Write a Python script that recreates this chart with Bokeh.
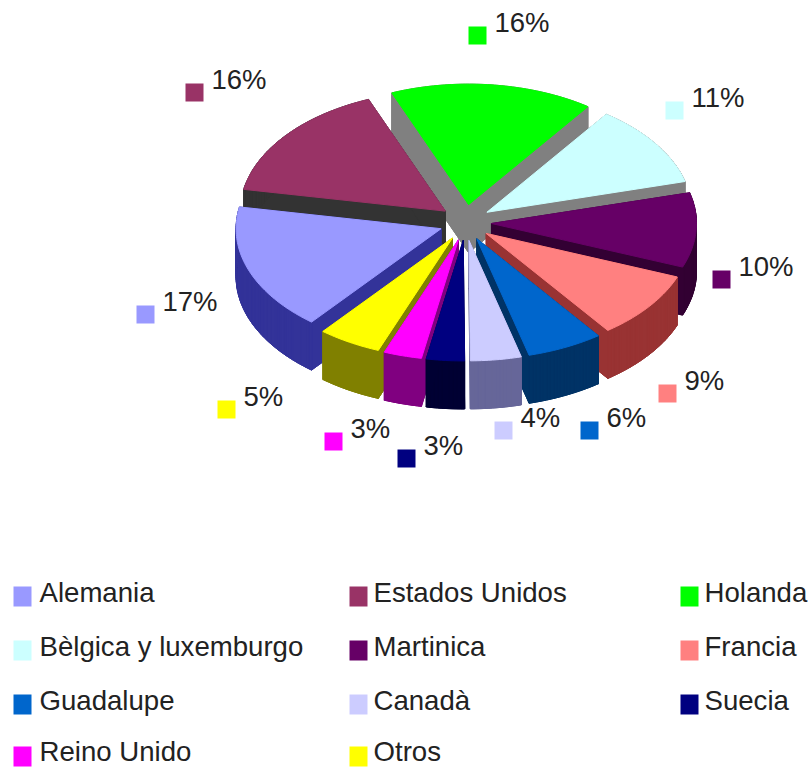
import math
from bokeh.plotting import figure
from bokeh.models import Range1d
from bokeh.core.properties import value
from bokeh.embed import file_html
from bokeh.resources import INLINE

# --- data (clockwise from the Holanda slice's leading edge)
names = ["Holanda", "Bèlgica y luxemburgo", "Martinica", "Francia", "Guadalupe",
         "Canadà", "Suecia", "Reino Unido", "Otros", "Alemania", "Estados Unidos"]
shares = [16, 11, 10, 9, 6, 4, 3, 3, 5, 17, 16]
top_colors = ["#00FF00", "#CCFFFF", "#660066", "#FF8080", "#0066CC",
              "#CCCCFF", "#000080", "#FF00FF", "#FFFF00", "#9999FF", "#993366"]
side_colors = ["#808080", "#808080", "#330033", "#993333", "#003366",
               "#666699", "#000033", "#800080", "#808000", "#333399", "#333333"]
legend_order = ["Alemania", "Estados Unidos", "Holanda",
                "Bèlgica y luxemburgo", "Martinica", "Francia",
                "Guadalupe", "Canadà", "Suecia",
                "Reino Unido", "Otros"]

# --- layout (page pixels)
CX, CY = 465, 222
RX, RY = 205, 120.5
EX, EY = 26, 18
DEPTH = 48
START = 112.0
KEY_POS = {"Holanda": (477, 35), "Bèlgica y luxemburgo": (674, 110), "Martinica": (721, 279),
           "Francia": (667, 393), "Guadalupe": (589, 430), "Canadà": (503, 430),
           "Suecia": (406, 458), "Reino Unido": (333, 441), "Otros": (226, 409),
           "Alemania": (145, 314), "Estados Unidos": (194, 92)}
LEG_KEY_X = [22, 358, 689]
LEG_TEXT_X = [39, 373, 704]
LEG_KEY_Y = [596, 650, 704, 756]
LEG_TEXT_Y = [592, 646, 700, 751]
FONT = value("Liberation Sans")

p = figure(width=808, height=767, x_range=Range1d(0, 808), y_range=Range1d(767, 0),
           output_backend="svg", toolbar_location=None, min_border=0,
           outline_line_color=None, background_fill_color="white")
p.axis.visible = False
p.grid.visible = False

total = sum(shares)
slices = []
ang = START
for name, share, top, side in zip(names, shares, top_colors, side_colors):
    sweep = 360.0 * share / total
    a0, a1 = ang, ang - sweep
    ang = a1
    mid = math.radians((a0 + a1) / 2)
    ax = CX + EX * math.cos(mid)
    ay = CY - EY * math.sin(mid)
    n = max(6, int(sweep))
    xs, ys = [ax], [ay]
    for i in range(n + 1):
        t = math.radians(a0 + (a1 - a0) * i / n)
        xs.append(ax + RX * math.cos(t))
        ys.append(ay - RY * math.sin(t))
    slices.append((ay, xs, ys, top, side))

# painter's order: back slices first
for ay, xs, ys, top, side in sorted(slices, key=lambda s: s[0]):
    m = len(xs)
    bx = list(xs)
    by = [y + DEPTH for y in ys]
    wx, wy = [bx], [by]
    for i in range(m):
        j = (i + 1) % m
        wx.append([xs[i], xs[j], bx[j], bx[i]])
        wy.append([ys[i], ys[j], by[j], by[i]])
    p.patches(wx, wy, fill_color=side, line_color=side, line_width=1)
    p.patch(xs, ys, fill_color=top, line_color=top, line_width=1)

# percentage labels with colour keys
lookup = dict(zip(names, zip(shares, top_colors)))
kx = [KEY_POS[n][0] for n in names]
ky = [KEY_POS[n][1] for n in names]
p.rect(kx, ky, width=18, height=18, fill_color=top_colors, line_color=None)
p.text([x + 17 for x in kx], [y - 13 for y in ky], text=[f"{s}%" for s in shares],
       text_font=FONT, text_font_size="27.5px", text_color="#222222",
       text_baseline="middle", text_align="left")

# legend
lx, ly, lc, tx, ty = [], [], [], [], []
for i, n in enumerate(legend_order):
    r, c = divmod(i, 3)
    lx.append(LEG_KEY_X[c]); ly.append(LEG_KEY_Y[r]); lc.append(lookup[n][1])
    tx.append(LEG_TEXT_X[c]); ty.append(LEG_TEXT_Y[r])
p.rect(lx, ly, width=18, height=20, fill_color=lc, line_color=None)
p.text(tx, ty, text=legend_order, text_font=FONT, text_font_size="27.6px", text_color="#222222",
       text_baseline="middle", text_align="left")

open("out.html", "w").write(file_html(p, INLINE))
